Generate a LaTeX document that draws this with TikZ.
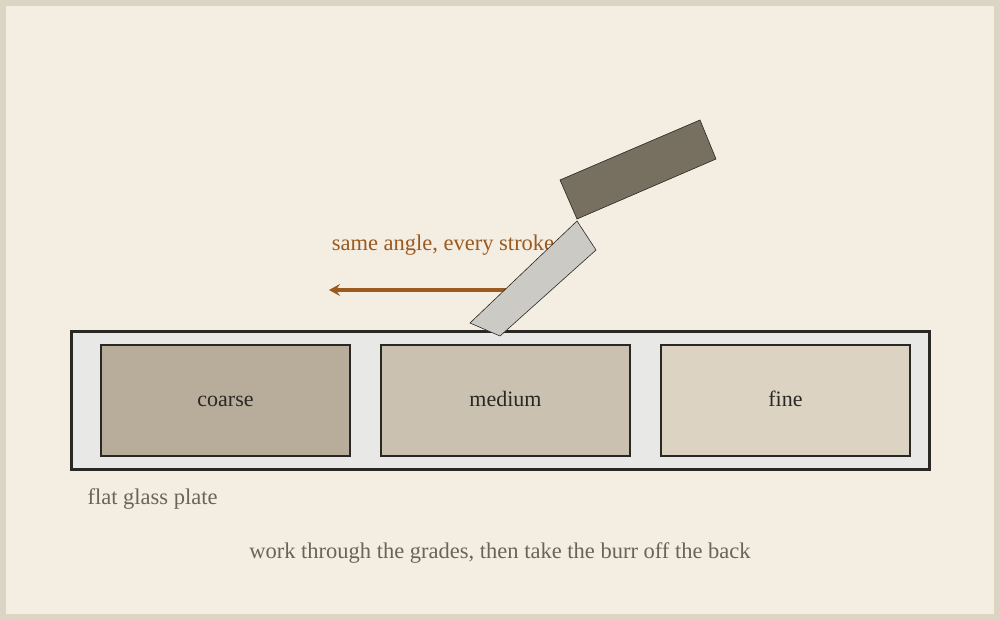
\documentclass[tikz,border=0pt]{standalone}
\usepackage{fontspec}
\setmainfont{Liberation Serif}
\usetikzlibrary{arrows.meta}
\definecolor{bg}{HTML}{F3EDE2}
\definecolor{frame}{HTML}{DCD5C4}
\definecolor{ink}{HTML}{2A2824}
\definecolor{grey}{HTML}{6B6456}
\definecolor{rust}{HTML}{9A5A20}
\definecolor{glass}{HTML}{E8E8E6}
\definecolor{sc}{HTML}{B8AD9B}
\definecolor{sm}{HTML}{CBC1B0}
\definecolor{sf}{HTML}{DDD3C2}
\definecolor{blade}{HTML}{CCCAC4}
\definecolor{handle}{HTML}{777060}
\begin{document}
\begin{tikzpicture}[x=1pt,y=-1pt,
  stone/.style={draw=ink,line width=1.8pt,minimum width=249pt,minimum height=111pt,text height=15pt,text depth=4pt,font=\fontsize{22}{24}\selectfont,text=ink},
  note/.style={font=\fontsize{22.5}{24}\selectfont,text=grey}]
\useasboundingbox (0,0) rectangle (1000,620);
\fill[frame] (0,0) rectangle (1000,620);
\fill[bg] (6,6) rectangle (994,614);
\draw[ink,line width=3pt,fill=glass] (71,331) rectangle (929,469);
\node[stone,fill=sc] (c) at (225.5,400.5) {coarse};
\node[stone,fill=sm] (m) at (505.5,400.5) {medium};
\node[stone,fill=sf] (f) at (785.5,400.5) {fine};
\node[font=\fontsize{22.5}{24}\selectfont,text=rust] (t) at (443,245) {same angle, every stroke};
\coordinate (as) at (521,290);
\coordinate (ae) at (329,290);
\draw[rust,line width=4pt,-{Stealth[length=11pt,width=12pt,inset=4pt]}] (as) -- (ae);
\draw[ink,line width=0.6pt,fill=blade] (470,323) -- (500,336) -- (596,250) -- (577,221) -- cycle;
\draw[ink,line width=0.6pt,fill=handle] (560,180) -- (577,219) -- (716,159) -- (700,120) -- cycle;
\node[note,anchor=west] (g) at (84,499) {flat glass plate};
\node[note] (w) at (500,553) {work through the grades, then take the burr off the back};
\end{tikzpicture}
\end{document}
